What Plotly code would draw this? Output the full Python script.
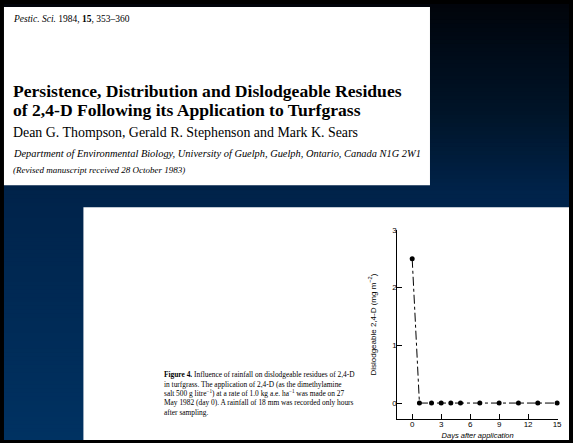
import plotly.graph_objects as go

# ---- data ----
days = [0, 0.75, 2, 3, 4, 5, 7, 9, 11, 13, 15]
residue = [2.5, 0, 0, 0, 0, 0, 0, 0, 0, 0, 0]
x_ticks = [0, 3, 6, 9, 12, 15]
y_ticks = [0, 1, 2, 3]

W, H = 573, 443


def px(x):
    return x / W


def py(y):
    return 1 - y / H


fig = go.Figure()
fig.add_trace(go.Scatter(
    x=days, y=residue, mode="lines+markers",
    line=dict(color="black", width=1, dash="dashdot"),
    marker=dict(color="black", size=5),
    showlegend=False, cliponaxis=False,
))

shapes = []
# dark gradient background (top nearly black, bottom navy)
stops = [(0, (1, 4, 10)), (40, (0, 10, 22)), (110, (0, 20, 40)),
         (190, (0, 35, 74)), (440, (0, 50, 98))]
band = 4
y = 0
while y < 440:
    yc = y + band / 2
    for i in range(len(stops) - 1):
        if stops[i][0] <= yc <= stops[i + 1][0]:
            t = (yc - stops[i][0]) / (stops[i + 1][0] - stops[i][0])
            c = [round(a + (b - a) * t) for a, b in zip(stops[i][1], stops[i + 1][1])]
            break
    shapes.append(dict(type="rect", xref="paper", yref="paper", layer="below",
                       x0=px(4), x1=1, y0=py(min(y + band + 1, 440)), y1=py(y),
                       fillcolor=f"rgb({c[0]},{c[1]},{c[2]})", line=dict(width=0)))
    y += band

# white page boxes
shapes.append(dict(type="rect", xref="paper", yref="paper", layer="below",
                   x0=px(4), x1=px(433), y0=py(183), y1=py(3),
                   fillcolor="white", line=dict(width=0)))
shapes.append(dict(type="rect", xref="paper", yref="paper", layer="below",
                   x0=px(84), x1=1, y0=py(440), y1=py(205),
                   fillcolor="white", line=dict(width=0)))

serif = "Liberation Serif"
ann = []


def text(x, y, s, size, family=serif, anchor="left"):
    ann.append(dict(x=px(x), y=py(y), xref="paper", yref="paper", text=s,
                    showarrow=False, xanchor=anchor, yanchor="middle",
                    font=dict(family=family, size=size, color="black")))


text(11, 15, "<i>Pestic. Sci.</i> 1984, <b>15</b>, 353–360", 9.5)
text(11, 88, "<b>Persistence, Distribution and Dislodgeable Residues</b>", 17.6)
text(11, 107, "<b>of 2,4-D Following its Application to Turfgrass</b>", 17.6)
text(11, 130, "Dean G. Thompson, Gerald R. Stephenson and Mark K. Sears", 13.9)
text(11, 151, "<i>Department of Environmental Biology, University of Guelph, Guelph, Ontario, Canada N1G 2W1</i>", 10.4)
text(11, 168, "<i>(Revised manuscript received 28 October 1983)</i>", 9)

caption = [
    "<b>Figure 4.</b> Influence of rainfall on dislodgeable residues of 2,4-D",
    "in turfgrass. The application of 2,4-D (as the dimethylamine",
    "salt 500 g litre<sup>−1</sup>) at a rate of 1.0 kg a.e. ha<sup>−1</sup> was made on 27",
    "May 1982 (day 0). A rainfall of 18 mm was recorded only hours",
    "after sampling.",
]
cap_y = [374, 383.5, 393, 402.5, 412]
for s, yy in zip(caption, cap_y):
    text(163, yy, s, 7.4)

fig.update_layout(
    width=W, height=H, autosize=False,
    margin=dict(l=0, r=0, t=0, b=0),
    paper_bgcolor="black", plot_bgcolor="rgba(0,0,0,0)",
    shapes=shapes, annotations=ann,
    xaxis=dict(domain=[px(400), px(562)], range=[-1.55, 15.1],
               tickvals=x_ticks, ticks="inside", ticklen=5, tickcolor="black",
               showline=True, linecolor="black", linewidth=1,
               showgrid=False, zeroline=False, ticklabelstandoff=-3,
               tickfont=dict(family="Liberation Sans", size=8, color="black"),
               title=dict(text="<i>Days after application</i>", standoff=4,
                          font=dict(family="Liberation Sans", size=7.5, color="black"))),
    yaxis=dict(domain=[py(419), py(228)], range=[-0.28, 3.0],
               tickvals=y_ticks, ticks="inside", ticklen=5, tickcolor="black",
               showline=True, linecolor="black", linewidth=1,
               showgrid=False, zeroline=False, ticklabelstandoff=-2,
               tickfont=dict(family="Liberation Sans", size=8, color="black"),
               title=dict(text="Dislodgeable 2,4-D (mg m<sup>−2</sup>)", standoff=14,
                          font=dict(family="Liberation Sans", size=8, color="black"))),
)

fig.write_html("out.html", config={"displayModeBar": False},
               post_script="document.body.style.margin='0';document.body.style.overflow='hidden';")
